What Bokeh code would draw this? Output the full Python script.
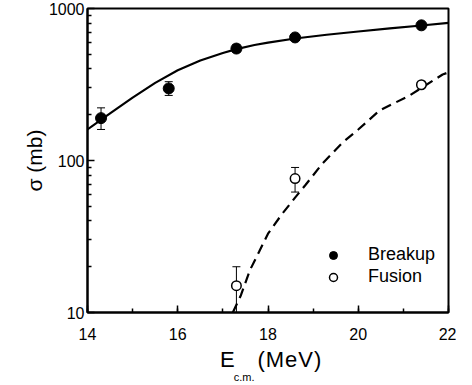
from bokeh.plotting import figure
from bokeh.models import (ColumnDataSource, Whisker, TeeHead, Legend, LegendItem,
                          SingleIntervalTicker, FixedTicker, Div, PrintfTickFormatter)
from bokeh.layouts import column
from bokeh.embed import file_html
from bokeh.resources import INLINE

# Breakup data
bu_x = [14.3, 15.8, 17.3, 18.6, 21.4]
bu_y = [190, 298, 545, 645, 775]
bu_lo = [160, 268, 515, 620, 750]
bu_hi = [222, 330, 580, 670, 800]

# Fusion data
fu_x = [17.3, 18.6, 21.4]
fu_y = [15, 76, 315]
fu_lo = [10, 62, 305]
fu_hi = [20, 90, 325]

# Calculated curves
bu_curve_x = [14.0, 14.5, 15.0, 15.5, 16.0, 16.5, 17.0, 17.3, 17.7, 18.0, 18.6, 19.3, 20.0, 20.7, 21.4, 22.0]
bu_curve_y = [160, 204, 259, 324, 392, 455, 510, 540, 575, 597, 635, 672, 706, 740, 773, 805]

fu_curve_x = [17.22, 17.4, 17.6, 17.8, 18.0, 18.3, 18.6, 18.83, 19.2, 19.65, 20.0, 20.47, 21.14, 21.4, 21.87, 22.0]
fu_curve_y = [10, 13, 19, 25, 33, 44, 57, 69, 95, 131, 160, 213, 268, 300, 368, 380]

# tick positions
y_major = [10, 100, 1000]
y_minor = [20, 30, 40, 50, 60, 70, 80, 90, 200, 300, 400, 500, 600, 700, 800, 900]

font = "Liberation Sans"

p = figure(width=456, height=347, x_range=(14, 22), y_range=(10, 1000), y_axis_type="log",
           output_backend="svg", toolbar_location=None,
           min_border_left=87, min_border_right=8, min_border_top=8, min_border_bottom=35)
p.frame_width = 361
p.frame_height = 304

p.grid.visible = False
p.outline_line_color = "black"
p.outline_line_width = 2
p.background_fill_color = "white"
p.border_fill_color = "white"

# curves
p.line(bu_curve_x, bu_curve_y, line_color="black", line_width=2.2)
p.line(fu_curve_x, fu_curve_y, line_color="black", line_width=2.2, line_dash="10 6")

# error bars
src_b = ColumnDataSource(dict(x=bu_x, y=bu_y, lo=bu_lo, hi=bu_hi))
src_f = ColumnDataSource(dict(x=fu_x, y=fu_y, lo=fu_lo, hi=fu_hi))
for src in (src_b, src_f):
    w = Whisker(source=src, base="x", lower="lo", upper="hi", line_color="black", line_width=1,
                upper_head=TeeHead(size=8, line_color="black", line_width=1),
                lower_head=TeeHead(size=8, line_color="black", line_width=1))
    p.add_layout(w)

rb = p.scatter("x", "y", source=src_b, size=11, fill_color="black", line_color="black")
rf = p.scatter("x", "y", source=src_f, size=9.5, fill_color="white", line_color="black", line_width=1.5)

legend = Legend(items=[LegendItem(label="Breakup", renderers=[rb]),
                       LegendItem(label="Fusion", renderers=[rf])],
                location=(236, 25), border_line_color=None, background_fill_alpha=0,
                label_text_font=font, label_text_font_size="18px", label_text_color="black",
                glyph_width=20, glyph_height=20, label_height=20, spacing=1,
                label_standoff=25, padding=0, margin=0)
p.add_layout(legend, "center")

# axes
for ax in (p.xaxis[0], p.yaxis[0]):
    ax.axis_line_width = 2
    ax.axis_line_color = "black"
    ax.major_tick_in = 7
    ax.major_tick_out = 0
    ax.minor_tick_in = 4
    ax.minor_tick_out = 0
    ax.major_tick_line_width = 1.5
    ax.minor_tick_line_width = 1.5
    ax.major_label_text_font = font
    ax.major_label_text_font_size = "16px"
    ax.major_label_text_color = "black"

p.xaxis.ticker = SingleIntervalTicker(interval=2, num_minor_ticks=2)
p.xaxis.major_label_standoff = 15
p.yaxis.ticker = FixedTicker(ticks=y_major, minor_ticks=y_minor)
p.yaxis.formatter = PrintfTickFormatter(format="%d")
p.yaxis.major_label_standoff = 3
p.yaxis.axis_label = "σ (mb)"
p.yaxis.axis_label_text_font = font
p.yaxis.axis_label_text_font_size = "21px"
p.yaxis.axis_label_text_font_style = "normal"
p.yaxis.axis_label_text_color = "black"
p.yaxis.axis_label_standoff = 0

xlabel = Div(
    text='<span style="position:relative; top:2px;">E'
         '<span style="position:relative; top:14px; font-size:11px; margin-left:-1px;">c.m.</span>'
         '<span style="margin-left:3px; letter-spacing:1px;">(MeV)</span></span>',
    width=456, height=22, margin=0,
    styles={"font-family": font, "font-size": "22px", "line-height": "22px",
            "padding-left": "220px", "color": "black", "overflow": "visible",
            "white-space": "nowrap"})

layout = column(p, xlabel, spacing=0)

open("out.html", "w").write(file_html(layout, INLINE))
